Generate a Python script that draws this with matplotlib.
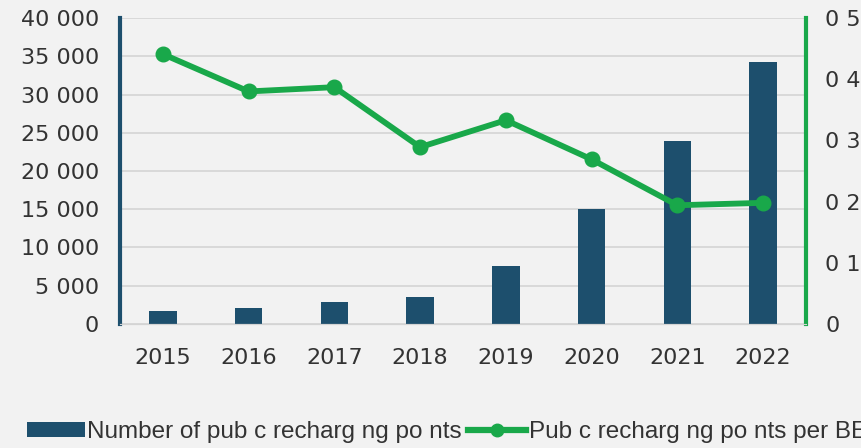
import matplotlib
matplotlib.use("Agg")
import matplotlib.pyplot as plt
from matplotlib.ticker import FuncFormatter, MultipleLocator
from matplotlib.lines import Line2D
from matplotlib.patches import Patch

# Public charging infrastructure, 2015-2022
years = ["2015", "2016", "2017", "2018", "2019", "2020", "2021", "2022"]
charging_points = [1740, 2050, 2900, 3490, 7580, 15000, 23960, 34250]
points_per_bev = [0.441, 0.380, 0.387, 0.289, 0.333, 0.269, 0.194, 0.198]

bar_label = "Number of pub c recharg ng po nts"
line_label = "Pub c recharg ng po nts per BEV"

bar_color = "#1d4f6d"
line_color = "#19a84a"
bg = "#f2f2f2"
text_color = "#333333"

plt.rcParams["font.family"] = ["DejaVu Sans"]

fig = plt.figure(figsize=(8.61, 4.48), dpi=100, facecolor=bg)
ax = fig.add_axes([0.1394, 0.2768, 0.7967, 0.683], facecolor=bg)
ax2 = ax.twinx()

x = range(len(years))
ax.bar(x, charging_points, width=0.32, color=bar_color, zorder=2)
ax2.plot(x, points_per_bev, color=line_color, lw=4.2, marker="o", ms=10.5, zorder=3)

ax.set_xlim(-0.5, 7.5)
ax.set_ylim(0, 40000)
ax2.set_ylim(0, 0.5)
ax.yaxis.set_major_locator(MultipleLocator(5000))
ax2.yaxis.set_major_locator(MultipleLocator(0.1))

ax.yaxis.set_major_formatter(FuncFormatter(lambda v, p: f"{int(v):,}".replace(",", " ")))
ax2.yaxis.set_major_formatter(FuncFormatter(lambda v, p: "0" if v == 0 else f"{v:.1f}".replace(".", " ")))

ax.set_xticks(list(x))
ax.set_xticklabels(years)
ax.grid(axis="y", color="#d4d4d4", lw=1.2, zorder=0)
ax.set_axisbelow(True)

for a in (ax, ax2):
    a.tick_params(length=0, labelsize=16, colors=text_color)
    a.spines["top"].set_visible(False)
ax.tick_params(axis="y", pad=15)
ax.tick_params(axis="x", pad=17)
ax2.tick_params(axis="y", pad=14)

ax.spines["left"].set_color(bar_color)
ax.spines["left"].set_linewidth(3)
ax.spines["right"].set_visible(False)
ax2.spines["left"].set_visible(False)
ax2.spines["right"].set_color(line_color)
ax2.spines["right"].set_linewidth(3)
ax2.spines["bottom"].set_color("#d4d4d4")
ax.spines["bottom"].set_color("#d4d4d4")

handles = [
    Patch(facecolor=bar_color, label=bar_label),
    Line2D([0], [0], color=line_color, lw=4.5, marker="o", ms=9, label=line_label),
]
fig.legend(handles=handles, loc="center left", bbox_to_anchor=(0.031, 0.036), ncol=2,
           frameon=False, handlelength=2.4, handleheight=0.55, handletextpad=0.1,
           columnspacing=0.25, borderpad=0, borderaxespad=0,
           prop={"family": ["Liberation Sans"], "size": 17.5},
           labelcolor=text_color)

fig.savefig("out.png", dpi=100, facecolor=bg)
